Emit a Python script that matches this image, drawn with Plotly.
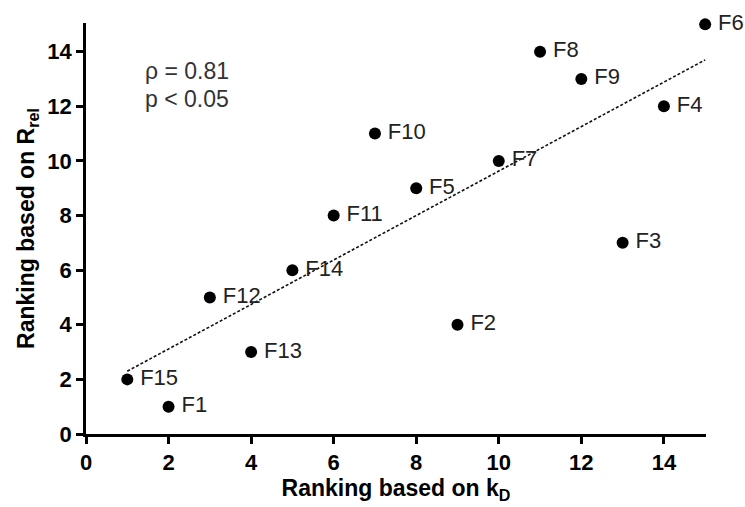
import numpy as np
import plotly.graph_objects as go

# Rankings for the 15 formulations
labels = ["F1", "F2", "F3", "F4", "F5", "F6", "F7", "F8", "F9", "F10",
          "F11", "F12", "F13", "F14", "F15"]
rank_kd = [2, 9, 13, 14, 8, 15, 10, 11, 12, 7, 6, 3, 4, 5, 1]
rank_rrel = [1, 4, 7, 12, 9, 15, 10, 14, 13, 11, 8, 5, 3, 6, 2]

x_ticks = [0, 2, 4, 6, 8, 10, 12, 14]
y_ticks = [0, 2, 4, 6, 8, 10, 12, 14]

stats_lines = ["ρ = 0.81", "p < 0.05"]

FONT = "Liberation Sans, Arial, sans-serif"

# Least-squares trend line over the data span
slope, intercept = np.polyfit(rank_kd, rank_rrel, 1)
fit_x = [min(rank_kd), max(rank_kd)]
fit_y = [slope * v + intercept for v in fit_x]

fig = go.Figure()

fig.add_trace(go.Scatter(
    x=fit_x, y=fit_y, mode="lines",
    line=dict(color="#111", width=1.6, dash="3px,2px"),
    hoverinfo="skip", showlegend=False,
))

# Thin space keeps a small gap between each dot and its label
fig.add_trace(go.Scatter(
    x=rank_kd, y=rank_rrel, mode="markers+text",
    marker=dict(color="black", size=12),
    text=["\u2009" + s for s in labels], textposition="middle right",
    textfont=dict(family=FONT, size=22, color="#222"),
    cliponaxis=False, showlegend=False,
))

axis_common = dict(
    showline=True, linecolor="black", linewidth=2.5,
    ticks="outside", ticklen=7, tickwidth=2.5, tickcolor="black",
    showgrid=False, zeroline=False,
    tickfont=dict(family=FONT, size=22, color="black", weight="bold"),
)

fig.update_xaxes(
    range=[0, 15.02], tickvals=x_ticks,
    title=dict(text="<b>Ranking based on k<sub>D</sub></b>", standoff=2,
               font=dict(family=FONT, size=23, color="black")),
    **axis_common,
)
fig.update_yaxes(
    range=[0, 15.05], tickvals=y_ticks,
    title=dict(text="<b>Ranking based on R<sub>rel</sub></b>", standoff=7,
               font=dict(family=FONT, size=23, color="black")),
    **axis_common,
)

for line, yv in zip(stats_lines, [13.3, 12.28]):
    fig.add_annotation(
        x=1.38, y=yv, xref="x", yref="y", xanchor="left", yanchor="middle",
        text=line, align="left", showarrow=False,
        font=dict(family=FONT, size=23, color="#333"),
    )

fig.update_layout(
    width=745, height=507,
    margin=dict(l=86, r=39, t=23, b=73),
    plot_bgcolor="white", paper_bgcolor="white",
)

fig.write_html("out.html")
